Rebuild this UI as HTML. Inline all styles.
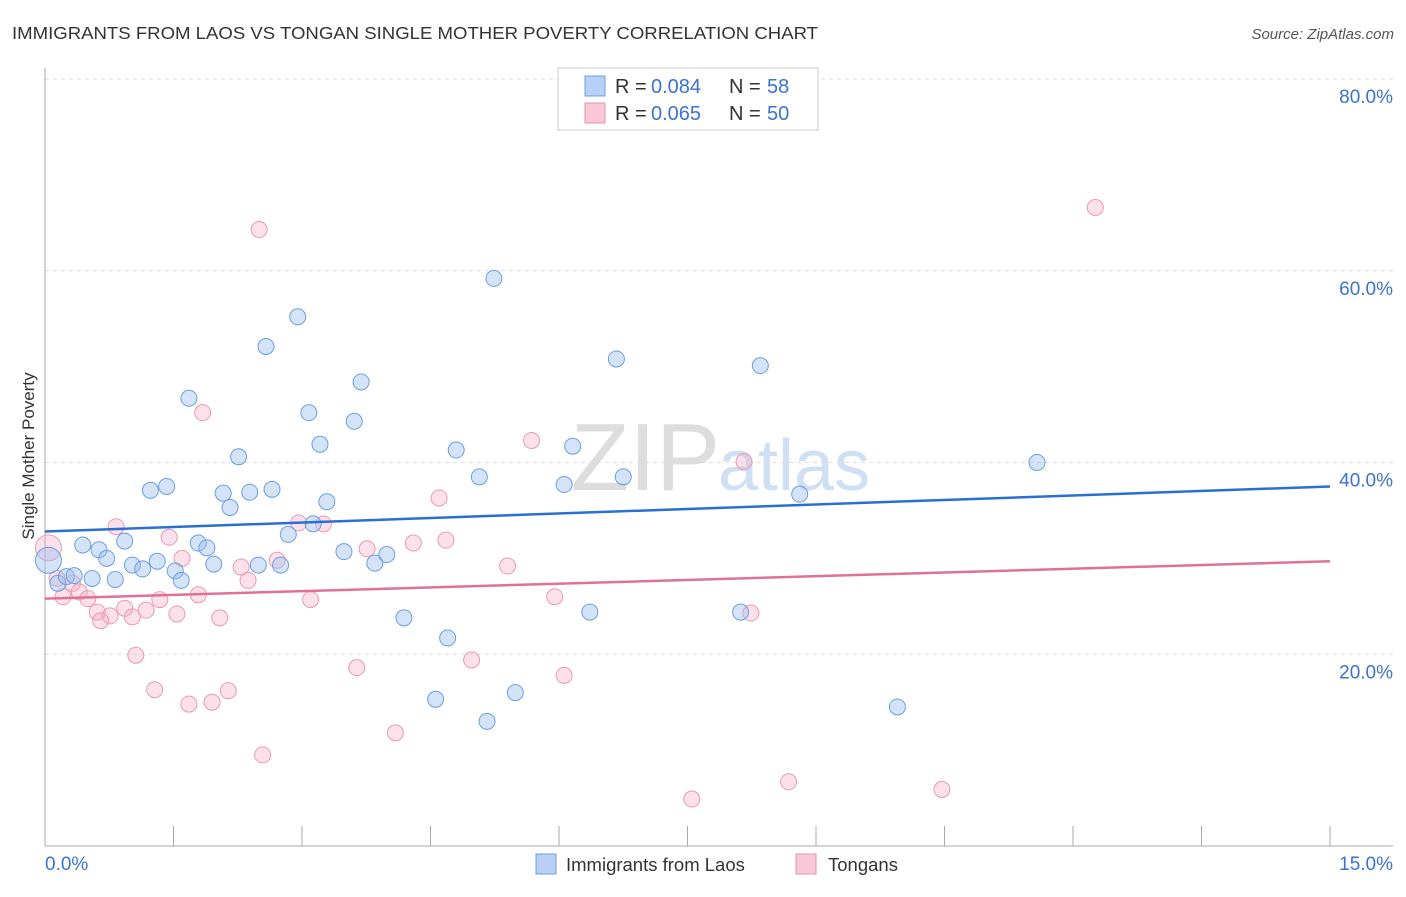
<!DOCTYPE html>
<html><head><meta charset="utf-8"><style>
body{margin:0;background:#fff;font-family:"Liberation Sans",sans-serif}
svg text{font-family:"Liberation Sans",sans-serif}
</style></head><body>
<svg id="chart" width="1406" height="892">
<text x="12" y="39" font-size="17.5" fill="#333" textLength="806" lengthAdjust="spacingAndGlyphs">IMMIGRANTS FROM LAOS VS TONGAN SINGLE MOTHER POVERTY CORRELATION CHART</text>
<text x="1394" y="39" font-size="15" fill="#555" font-style="italic" text-anchor="end">Source: ZipAtlas.com</text>
<text x="720" y="490" font-size="96" fill="#ddd" text-anchor="end" font-family="Liberation Serif">ZIP</text>
<text x="718" y="490" font-size="72" fill="#cfe0f5">atlas</text>
<g id="grid"></g>
<g id="axes"></g>
<g id="marks"></g>
<text transform="translate(34,456) rotate(-90)" font-size="17" fill="#333" text-anchor="middle">Single Mother Poverty</text>
<g>
<rect x="558" y="68" width="260" height="62" fill="#fff" stroke="#ccc"/>
<rect x="585" y="76" width="20" height="20" fill="#b8d0f5" stroke="#6a9fe0"/>
<text y="93" font-size="20" fill="#333"><tspan x="615">R =</tspan><tspan x="651" fill="#3b73d1">0.084</tspan><tspan x="729">N =</tspan><tspan x="767" fill="#3b73d1">58</tspan></text>
<rect x="585" y="103" width="20" height="20" fill="#f8c8d6" stroke="#e890b0"/>
<text y="120" font-size="20" fill="#333"><tspan x="615">R =</tspan><tspan x="651" fill="#3b73d1">0.065</tspan><tspan x="729">N =</tspan><tspan x="767" fill="#3b73d1">50</tspan></text>
</g>
<g>
<rect x="536" y="854" width="20" height="20" fill="#b8d0f5" stroke="#6a9fe0"/>
<text x="566" y="871" font-size="18.5" fill="#333">Immigrants from Laos</text>
<rect x="796" y="854" width="20" height="20" fill="#f8c8d6" stroke="#e890b0"/>
<text x="828" y="871" font-size="18.5" fill="#333">Tongans</text>
</g>
</svg>
<script>
const laosX=[0.04,0.15,0.25,0.34,0.44,0.55,0.63,0.72,0.82,0.93,1.02,1.14,1.23,1.31,1.42,1.52,1.59,1.68,1.79,1.89,1.97,2.08,2.16,2.26,2.39,2.49,2.58,2.65,2.75,2.84,2.95,3.08,3.13,3.21,3.29,3.49,3.61,3.69,3.85,3.99,4.19,4.56,4.70,4.80,5.07,5.16,5.24,5.49,6.06,6.16,6.36,6.67,6.75,8.12,8.35,8.81,9.95,11.58];
const laosY=[29.8,27.4,28.1,28.2,31.4,27.9,30.9,30.0,27.8,31.8,29.3,28.9,37.1,29.7,37.5,28.7,27.7,46.7,31.6,31.1,29.4,36.8,35.3,40.6,36.9,29.3,52.1,37.2,29.3,32.5,55.2,45.2,33.6,41.9,35.9,30.7,44.3,48.4,29.5,30.4,23.8,15.3,21.7,41.3,38.5,13.0,59.2,16.0,37.7,41.7,24.4,50.8,38.5,24.4,50.1,36.7,14.5,40.0];
const tonX=[0.04,0.14,0.21,0.32,0.40,0.50,0.61,0.65,0.76,0.83,0.93,1.02,1.06,1.18,1.28,1.34,1.45,1.54,1.60,1.68,1.79,1.84,1.95,2.04,2.14,2.29,2.37,2.50,2.54,2.71,2.96,3.10,3.25,3.64,3.76,4.09,4.30,4.60,4.68,4.98,5.40,5.68,5.95,6.06,7.55,8.16,8.24,8.68,10.47,12.26];
const tonY=[31.1,27.9,26.0,27.4,26.5,25.8,24.4,23.5,24.0,33.3,24.8,23.9,19.9,24.6,16.3,25.7,32.2,24.2,30.0,14.8,26.2,45.2,15.0,23.8,16.2,29.1,27.7,64.3,9.5,29.8,33.7,25.7,33.6,18.6,31.0,11.8,31.6,36.3,31.9,19.4,29.2,42.3,26.0,17.8,4.9,40.1,24.3,6.7,5.9,66.6];
const laosTrend=[32.8,37.5];
const tonTrend=[25.8,29.7];
const yTicks=[20,40,60,80];
const xTicks=[0,1.5,3,4.5,6,7.5,9,10.5,12,13.5,15];
const NS="http://www.w3.org/2000/svg";
const sx=v=>45+v*(1285/15);
const sy=v=>846-v*9.5875;
function mk(t,a,p){const e=document.createElementNS(NS,t);for(const k in a)e.setAttribute(k,a[k]);p.appendChild(e);return e;}
const grid=document.getElementById('grid'),axes=document.getElementById('axes'),marks=document.getElementById('marks');
yTicks.forEach(v=>{
 const l=mk('line',{x1:45,x2:1393,y1:sy(v),y2:sy(v),stroke:'#ddd','stroke-dasharray':'4,4'},grid);
 
 
 const t=mk('text',{x:1393,y:sy(v)+24,'font-size':19,fill:'#3b73d1','text-anchor':'end'},axes);
 t.textContent=v.toFixed(1)+'%';
 
 
});
const ax=mk('line',{x1:45,x2:1393,y1:846,y2:846,stroke:'#aaa'},axes);


const ay=mk('line',{x1:45,x2:45,y1:68,y2:846,stroke:'#aaa'},axes);


xTicks.forEach(v=>{
 const l=mk('line',{x1:sx(v),x2:sx(v),y1:826,y2:846,stroke:'#aaa'},axes);
 
 
});
[[0,'0.0%','start',45],[15,'15.0%','end',1393]].forEach(d=>{
 const t=mk('text',{x:d[3],y:870,'font-size':19,fill:'#3b73d1','text-anchor':d[2]},axes);
 t.textContent=d[1];
 
 
});
function dots(X,Y,fill,stroke,name){
 X.forEach((x,i)=>{
  const c=mk('circle',{cx:sx(x),cy:sy(Y[i]),r:i===0?13:8,fill:fill,stroke:stroke,'stroke-width':1},marks);
  
  
 });
}
dots(tonX,tonY,'rgba(245,170,195,0.35)','#e89ab5','tongan-point');
dots(laosX,laosY,'rgba(160,192,240,0.45)','#6a9fe0','laos-point');
const t1=mk('line',{x1:sx(0),x2:sx(15),y1:sy(laosTrend[0]),y2:sy(laosTrend[1]),stroke:'#2a6fd6','stroke-width':2.5},marks);


const t2=mk('line',{x1:sx(0),x2:sx(15),y1:sy(tonTrend[0]),y2:sy(tonTrend[1]),stroke:'#e0709a','stroke-width':2.5},marks);


</script>
</body></html>
